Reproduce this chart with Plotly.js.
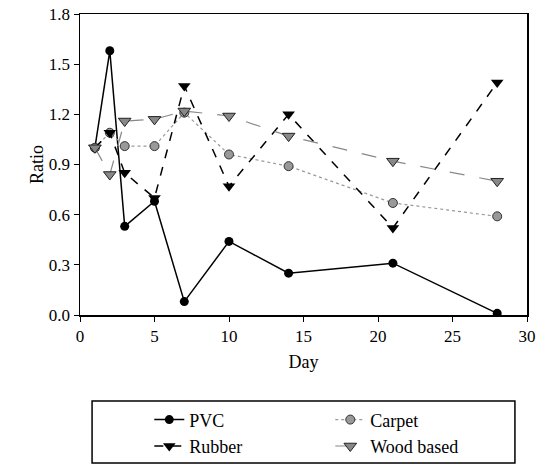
<!DOCTYPE html>
<html>
<head>
<meta charset="utf-8">
<script src="https://cdn.plot.ly/plotly-3.0.1.min.js"></script>
<style>html,body{margin:0;padding:0;background:#fff;}#chart{width:544px;height:465px;}</style>
</head>
<body>
<div id="chart"></div>
<script>
const days = [1, 2, 3, 5, 7, 10, 14, 21, 28];
const pvc = [1.00, 1.58, 0.53, 0.68, 0.08, 0.44, 0.25, 0.31, 0.01];
const rubber = [1.00, 1.09, 0.85, 0.70, 1.37, 0.77, 1.20, 0.52, 1.39];
const carpet = [1.00, 1.09, 1.01, 1.01, 1.21, 0.96, 0.89, 0.67, 0.59];
const wood = [1.00, 0.84, 1.16, 1.17, 1.22, 1.19, 1.07, 0.92, 0.80];
const names = ["PVC", "Carpet", "Rubber", "Wood based"];
const xTicks = [0, 5, 10, 15, 20, 25, 30];
const yTicks = [0.0, 0.3, 0.6, 0.9, 1.2, 1.5, 1.8];

const F = "Liberation Serif";
const traces = [
  {x: days, y: pvc, name: names[0], mode: "lines+markers",
   line: {color: "#000", width: 1.5, dash: "solid"},
   marker: {symbol: "circle", size: 9, color: "#000"}},
  {x: days, y: carpet, name: names[1], mode: "lines+markers",
   line: {color: "#999", width: 1.2, dash: "dot"},
   marker: {symbol: "circle", size: 9, color: "#999", line: {color: "#333", width: 1}}},
  {x: days, y: rubber, name: names[2], mode: "lines+markers",
   line: {color: "#000", width: 1.5, dash: "dash"},
   marker: {symbol: "triangle-down", size: 11, color: "#000"}},
  {x: days, y: wood, name: names[3], mode: "lines+markers",
   line: {color: "#888", width: 1.2, dash: "longdash"},
   marker: {symbol: "triangle-down", size: 11, color: "#888", line: {color: "#222", width: 1}}}
];

const layout = {
  width: 544, height: 465,
  margin: {l: 80, r: 17, t: 14, b: 150, autoexpand: false},
  paper_bgcolor: "#fff", plot_bgcolor: "#fff",
  font: {family: F, size: 16, color: "#000"},
  showlegend: true,
  xaxis: {range: [0, 30], tickvals: xTicks, ticktext: xTicks.map(String),
    showgrid: false, zeroline: false, showline: true, mirror: true,
    linecolor: "#000", linewidth: 1.5, ticks: "outside", ticklen: 5, tickcolor: "#000",
    tickfont: {family: F, size: 17}, title: {text: "Day", font: {family: F, size: 18}, standoff: 10}},
  yaxis: {range: [0, 1.8], tickvals: yTicks, ticktext: yTicks.map(v => v.toFixed(1)),
    ticksuffix: "\u00a0\u00a0",
    showgrid: false, zeroline: false, showline: true, mirror: true,
    linecolor: "#000", linewidth: 1.5, ticks: "outside", ticklen: 5, tickcolor: "#000",
    tickfont: {family: F, size: 17}, title: {text: "Ratio", font: {family: F, size: 18}, standoff: 0}},
  legend: {orientation: "h", x: 0.155, y: -0.287, xanchor: "left", yanchor: "top",
    entrywidth: 136, entrywidthmode: "pixels", tracegroupgap: 0,
    font: {family: F, size: 18}, bgcolor: "rgba(0,0,0,0)", borderwidth: 0},
  shapes: [{type: "rect", xref: "paper", yref: "paper", x0: 0.027, x1: 0.973, y0: -0.492, y1: -0.286,
    line: {color: "#000", width: 1.5}, fillcolor: "rgba(0,0,0,0)"}]
};
Plotly.newPlot("chart", traces, layout, {displayModeBar: false, staticPlot: true});
</script>
</body>
</html>
